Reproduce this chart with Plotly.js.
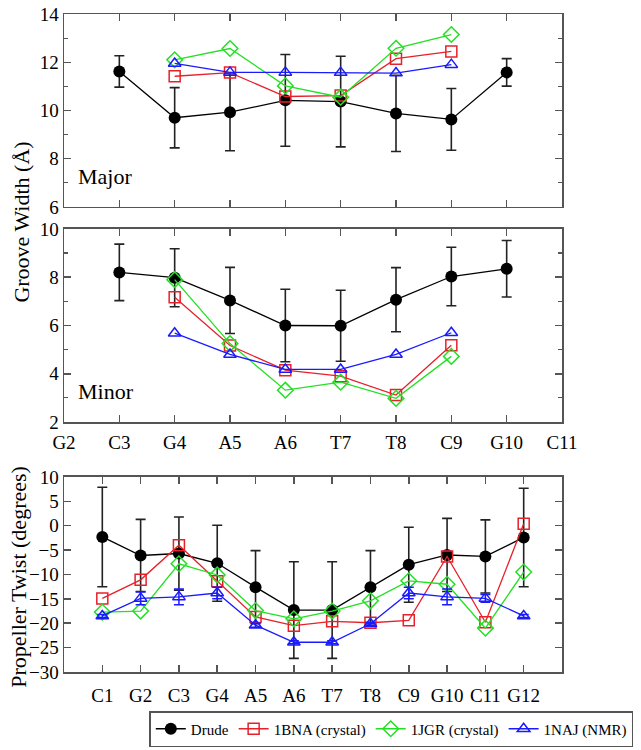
<!DOCTYPE html>
<html>
<head>
<meta charset="utf-8">
<script src="https://cdn.plot.ly/plotly-3.0.1.min.js"></script>
<style>html,body{margin:0;padding:0;background:#fff;}#chart{width:641px;height:750px;}</style>
</head>
<body>
<div id="chart"></div>
<script>
// Categories
const grooveBases = ['G2','C3','G4','A5','A6','T7','T8','C9','G10','C11'];
const drudeGrooveBases = ['C3','G4','A5','A6','T7','T8','C9','G10'];
const expGrooveBases = ['G4','A5','A6','T7','T8','C9'];
const twistBases = ['C1','G2','C3','G4','A5','A6','T7','T8','C9','G10','C11','G12'];

// Major groove width (Å)
const drudeMajor = [11.62, 9.70, 9.93, 10.42, 10.37, 9.88, 9.63, 11.58];
const drudeMajorErr = [0.65, 1.25, 1.6, 1.9, 1.88, 1.58, 1.28, 0.57];
const bnaMajor = [11.42, 11.57, 10.58, 10.62, 12.15, 12.45];
const jgrMajor = [12.1, 12.57, 11.02, 10.55, 12.58, 13.15];
const najMajor = [11.95, 11.58, 11.58, 11.57, 11.55, 11.9];

// Minor groove width (Å)
const drudeMinor = [8.2, 7.98, 7.04, 6.0, 5.99, 7.07, 8.03, 8.35];
const drudeMinorErr = [1.17, 1.2, 1.37, 1.5, 1.47, 1.33, 1.21, 1.17];
const bnaMinor = [7.17, 5.17, 4.15, 3.9, 3.12, 5.18];
const jgrMinor = [7.9, 5.25, 3.32, 3.65, 2.98, 4.72];
const najMinor = [5.68, 4.8, 4.18, 4.18, 4.8, 5.7];

// Propeller twist (degrees)
const drudeTwist = [-2.3, -6.1, -5.7, -7.7, -12.6, -17.3, -17.3, -12.6, -8.0, -6.0, -6.3, -2.4];
const drudeTwistErr = [10.2, 7.4, 7.5, 7.8, 7.5, 9.9, 9.9, 7.5, 7.7, 7.5, 7.5, 10.1];
const bnaTwist = [-14.9, -11.1, -4.0, -11.4, -18.7, -20.5, -19.6, -19.9, -19.4, -6.3, -19.8, 0.4];
const jgrTwist = [-17.7, -17.5, -7.8, -10.1, -17.4, -19.1, -17.5, -15.4, -11.3, -12.0, -21.0, -9.5];
const najTwist = [-18.5, -14.9, -14.6, -13.8, -20.4, -23.9, -23.9, -20.1, -13.8, -14.6, -14.9, -18.5];
const najTwistErr = [0.3, 1.3, 1.6, 1.2, 0.4, 0.3, 0.3, 0.3, 1.2, 1.6, 0.8, 0.3];

const seriesNames = ['Drude', '1BNA (crystal)', '1JGR (crystal)', '1NAJ (NMR)'];

const FONT = 'Liberation Serif';
const C_BLACK = '#000000', C_RED = '#e8202a', C_GREEN = '#22e022', C_BLUE = '#1a1aff';

function drude(x, y, err, xa, ya, show) {
  return {x: x, y: y, xaxis: xa, yaxis: ya, name: seriesNames[0], showlegend: show, legendrank: 1,
    type: 'scatter', mode: 'lines+markers', cliponaxis: false,
    line: {color: C_BLACK, width: 1.3},
    marker: {symbol: 'circle', size: 12, color: C_BLACK},
    error_y: {type: 'data', array: err, visible: true, color: '#222', thickness: 1.6, width: 5}};
}
function exp(x, y, name, color, symbol, size, xa, ya, show, rank, err) {
  const t = {x: x, y: y, xaxis: xa, yaxis: ya, name: name, showlegend: show, legendrank: rank,
    type: 'scatter', mode: 'lines+markers', cliponaxis: false,
    line: {color: color, width: 1.3},
    marker: {symbol: symbol, size: size, color: color, line: {color: color, width: 1.5}}};
  if (err) t.error_y = {type: 'data', array: err, visible: true, color: color, thickness: 1.5, width: 5};
  return t;
}

const data = [
  drude(drudeGrooveBases, drudeMajor, drudeMajorErr, 'x', 'y', false),
  exp(expGrooveBases, bnaMajor, seriesNames[1], C_RED, 'square-open', 11, 'x', 'y', false, 2),
  exp(expGrooveBases, jgrMajor, seriesNames[2], C_GREEN, 'diamond-open', 12, 'x', 'y', false, 3),
  exp(expGrooveBases, najMajor, seriesNames[3], C_BLUE, 'triangle-up-open', 11, 'x', 'y', false, 4),

  drude(drudeGrooveBases, drudeMinor, drudeMinorErr, 'x2', 'y2', false),
  exp(expGrooveBases, bnaMinor, seriesNames[1], C_RED, 'square-open', 11, 'x2', 'y2', false, 2),
  exp(expGrooveBases, jgrMinor, seriesNames[2], C_GREEN, 'diamond-open', 12, 'x2', 'y2', false, 3),
  exp(expGrooveBases, najMinor, seriesNames[3], C_BLUE, 'triangle-up-open', 11, 'x2', 'y2', false, 4),

  drude(twistBases, drudeTwist, drudeTwistErr, 'x3', 'y3', true),
  exp(twistBases, bnaTwist, seriesNames[1], C_RED, 'square-open', 11, 'x3', 'y3', true, 2),
  exp(twistBases, jgrTwist, seriesNames[2], C_GREEN, 'diamond-open', 12, 'x3', 'y3', true, 3),
  exp(twistBases, najTwist, seriesNames[3], C_BLUE, 'triangle-up-open', 11, 'x3', 'y3', true, 4, najTwistErr)
];

const AX = '#555';
function axis(extra) {
  return Object.assign({
    showline: true, linecolor: AX, linewidth: 1.5, mirror: 'ticks',
    ticks: 'inside', ticklen: 7, tickwidth: 1.5, tickcolor: AX,
    showgrid: false, zeroline: false,
    tickfont: {family: FONT, size: 19, color: '#000'}
  }, extra);
}

const layout = {
  width: 641, height: 750,
  margin: {l: 64, r: 79, t: 14, b: 78},
  paper_bgcolor: '#fff', plot_bgcolor: '#fff',
  font: {family: FONT, color: '#000'},
  showlegend: true,
  xaxis: axis({type: 'category', categoryorder: 'array', categoryarray: grooveBases, range: [0, 9],
    anchor: 'y', showticklabels: false}),
  yaxis: axis({domain: [0.7067, 1], range: [6, 14], dtick: 2, anchor: 'x', ticklabelstandoff: 0,
    minor: {dtick: 1, ticklen: 4, tickwidth: 1.2, tickcolor: AX, ticks: 'inside'}}),
  xaxis2: axis({type: 'category', categoryorder: 'array', categoryarray: grooveBases, range: [0, 9],
    anchor: 'y2', ticklabelstandoff: 3}),
  yaxis2: axis({domain: [0.3799, 0.6733], range: [2, 10], dtick: 2, anchor: 'x2', ticklabelstandoff: 0,
    minor: {dtick: 1, ticklen: 4, tickwidth: 1.2, tickcolor: AX, ticks: 'inside'}}),
  xaxis3: axis({type: 'category', categoryorder: 'array', categoryarray: twistBases, range: [-1, 12],
    anchor: 'y3', ticklabelstandoff: 6}),
  yaxis3: axis({domain: [0, 0.2964], range: [-30, 10], dtick: 5, anchor: 'x3', ticklabelstandoff: 0}),
  legend: {orientation: 'h', xref: 'container', yref: 'container', x: 0.988, xanchor: 'right',
    y: 0.052, yanchor: 'top',
    bordercolor: AX, borderwidth: 1.5, bgcolor: '#fff',
    font: {family: FONT, size: 15, color: '#000'}, itemwidth: 30, traceorder: 'normal'},
  annotations: [
    {text: 'Groove Width (Å)', xref: 'paper', yref: 'paper', x: -0.085, y: 0.684,
      xanchor: 'center', yanchor: 'middle', textangle: -90, showarrow: false,
      font: {family: FONT, size: 22, color: '#000'}},
    {text: 'Propeller Twist (degrees)', xref: 'paper', yref: 'paper', x: -0.092, y: 0.145,
      xanchor: 'center', yanchor: 'middle', textangle: -90, showarrow: false,
      font: {family: FONT, size: 22, color: '#000'}},
    {text: 'Major', xref: 'paper', yref: 'paper', x: 0.025, y: 0.753,
      xanchor: 'left', yanchor: 'middle', showarrow: false,
      font: {family: FONT, size: 22, color: '#000'}},
    {text: 'Minor', xref: 'paper', yref: 'paper', x: 0.025, y: 0.426,
      xanchor: 'left', yanchor: 'middle', showarrow: false,
      font: {family: FONT, size: 22, color: '#000'}}
  ]
};

Plotly.newPlot('chart', data, layout, {displayModeBar: false, staticPlot: true});
</script>
</body>
</html>
